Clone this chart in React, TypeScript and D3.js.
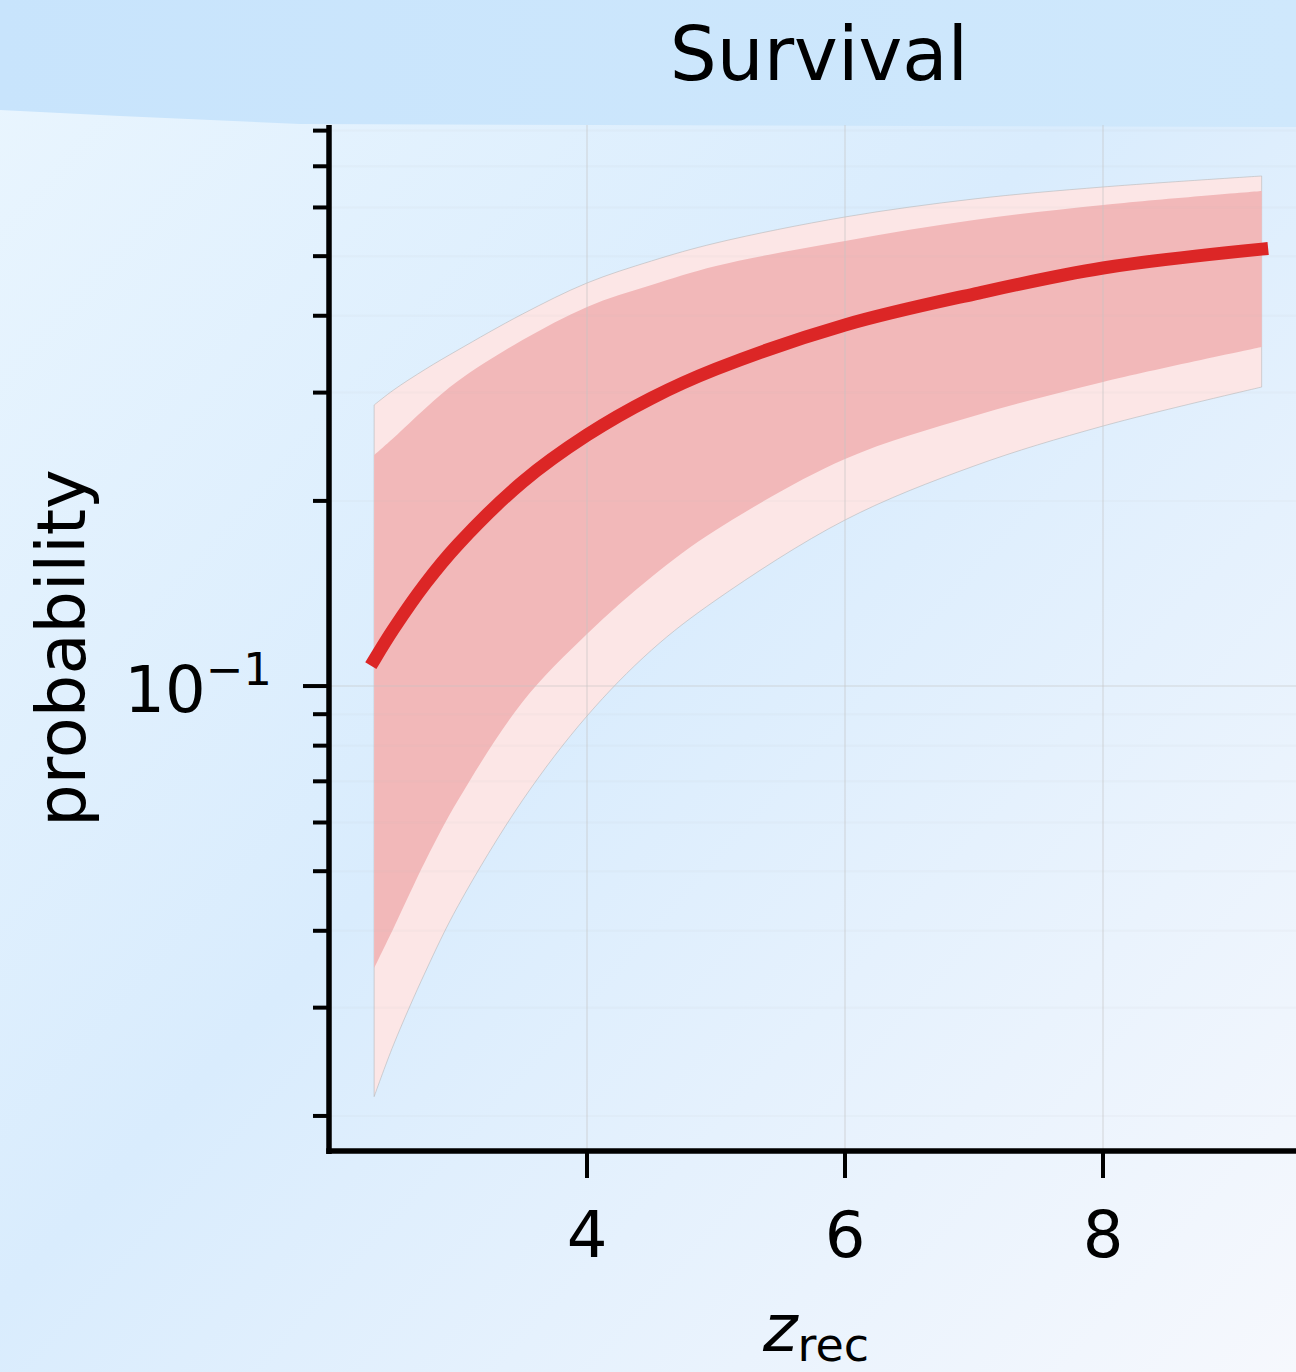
import React from "react";
import * as d3 from "d3";

// redshift of recombination grid and survival probability bands
const zrec = [2.35, 2.5, 2.75, 3.0, 3.5, 4.0, 4.5, 5.0, 6.0, 7.0, 8.0, 9.23];
const median = [0.1102, 0.1238, 0.147, 0.1699, 0.2147, 0.2559, 0.2939, 0.3277, 0.3864, 0.4339, 0.4783, 0.5134];
const innerLo = [0.0348, 0.0404, 0.0521, 0.0652, 0.0942, 0.1215, 0.1504, 0.1793, 0.2339, 0.2748, 0.3121, 0.3557];
const innerHi = [0.2375, 0.2532, 0.2833, 0.3133, 0.3652, 0.4135, 0.4487, 0.4819, 0.5292, 0.5724, 0.6058, 0.6383];
const outerLo = [0.0215, 0.0261, 0.0344, 0.0439, 0.0652, 0.0894, 0.1144, 0.138, 0.1862, 0.2279, 0.2647, 0.3063];
const outerHi = [0.2864, 0.3029, 0.3277, 0.3519, 0.4026, 0.4522, 0.4911, 0.5253, 0.579, 0.6194, 0.6478, 0.675];

const xTicks = [4, 6, 8];
const yMajor = [0.1];
const yMinor = [0.02, 0.03, 0.04, 0.05, 0.06, 0.07, 0.08, 0.09, 0.2, 0.3, 0.4, 0.5, 0.6, 0.7, 0.8];

const W = 1296;
const H = 1372;
const left = 329;
const right = 1296;
const top = 125;
const bottom = 1151;
const font = "'DejaVu Sans', sans-serif";

export default function App() {
  const x = d3.scaleLinear().domain([2.0, 9.5]).range([left, right + 0.5]);
  const y = d3.scaleLog().domain([0.01754, 0.817]).range([bottom, top]);

  const rows = zrec.map((z, i) => ({
    z,
    m: median[i],
    il: innerLo[i],
    ih: innerHi[i],
    ol: outerLo[i],
    oh: outerHi[i],
  }));
  type Row = (typeof rows)[number];

  const curve = d3.curveCatmullRom.alpha(0.5);
  const outerArea = d3
    .area<Row>()
    .x((d) => x(d.z))
    .y0((d) => y(d.ol))
    .y1((d) => y(d.oh))
    .curve(curve);
  const innerArea = d3
    .area<Row>()
    .x((d) => x(d.z))
    .y0((d) => y(d.il))
    .y1((d) => y(d.ih))
    .curve(curve);
  const line = d3
    .line<Row>()
    .x((d) => x(d.z))
    .y((d) => y(d.m))
    .curve(curve);

  return (
    <svg
      width={W}
      height={H}
      style={{ position: "absolute", left: 0, top: 0, display: "block" }}
    >
      <defs>
        <linearGradient id="bg" x1="0" y1="0.05" x2="1" y2="1">
          <stop offset="0" stopColor="#e9f5fe" />
          <stop offset="0.45" stopColor="#d9ecfd" />
          <stop offset="1" stopColor="#f6f8fd" />
        </linearGradient>
        <linearGradient id="band" x1="0" y1="0" x2="1" y2="0">
          <stop offset="0" stopColor="#c8e4fc" />
          <stop offset="1" stopColor="#cfe8fc" />
        </linearGradient>
      </defs>
      <rect x={0} y={0} width={W} height={H} fill="url(#bg)" />
      <path d="M0,0 H1296 V127 L300,124 L120,116 L0,110 Z" fill="url(#band)" />

      {/* credible bands */}
      <path d={outerArea(rows) ?? ""} fill="#fce6e6" stroke="#b4b4b4" strokeWidth={0.8} strokeOpacity={0.7} />
      <path d={innerArea(rows) ?? ""} fill="#f2b8b9" />

      {/* faint grid */}
      <g stroke="#c4c4c4" fill="none">
        {yMinor.map((t) => (
          <line key={"m" + t} x1={left} x2={right} y1={y(t)} y2={y(t)} strokeWidth={2} strokeOpacity={0.08} />
        ))}
        {yMajor.map((t) => (
          <line key={"M" + t} x1={left} x2={right} y1={y(t)} y2={y(t)} strokeWidth={1.5} strokeOpacity={0.4} />
        ))}
        {xTicks.map((t) => (
          <line key={"x" + t} x1={x(t)} x2={x(t)} y1={top} y2={bottom} strokeWidth={1.5} strokeOpacity={0.45} />
        ))}
      </g>

      <path
        d={line(rows) ?? ""}
        fill="none"
        stroke="#dc2626"
        strokeWidth={13}
        strokeLinecap="square"
        strokeLinejoin="round"
      />

      {/* spines */}
      <line x1={left} x2={left} y1={top} y2={bottom + 3} stroke="#000" strokeWidth={5.5} />
      <line x1={left - 2.75} x2={right} y1={bottom} y2={bottom} stroke="#000" strokeWidth={5.5} />

      {/* x ticks */}
      {xTicks.map((t) => (
        <g key={"xt" + t}>
          <line x1={x(t)} x2={x(t)} y1={bottom} y2={bottom + 27} stroke="#000" strokeWidth={4} />
          <text x={x(t)} y={1257} textAnchor="middle" fontFamily={font} fontSize={64} fill="#000">
            {t}
          </text>
        </g>
      ))}

      {/* y ticks */}
      {yMinor.map((t) => (
        <line key={"ymt" + t} x1={left - 16} x2={left} y1={y(t)} y2={y(t)} stroke="#000" strokeWidth={4} />
      ))}
      {yMajor.map((t) => (
        <g key={"yMt" + t}>
          <line x1={left - 26} x2={left} y1={y(t)} y2={y(t)} stroke="#000" strokeWidth={4} />
          <text x={272} y={y(t) + 26} textAnchor="end" fontFamily={font} fontSize={64} fill="#000">
            10
            <tspan fontSize={45} dy={-27}>
              {"\u22121"}
            </tspan>
          </text>
        </g>
      ))}

      {/* labels */}
      <text x={819} y={80} textAnchor="middle" fontFamily={font} fontSize={74} fill="#000">
        Survival
      </text>
      <text
        transform="translate(85,648) rotate(-90)"
        textAnchor="middle"
        fontFamily={font}
        fontSize={67}
        fill="#000"
      >
        probability
      </text>
      <text x={816} y={1351} textAnchor="middle" fontFamily={font} fontSize={66} fill="#000">
        <tspan fontStyle="italic">z</tspan>
        <tspan fontSize={46} dy={10}>
          rec
        </tspan>
      </text>
    </svg>
  );
}
